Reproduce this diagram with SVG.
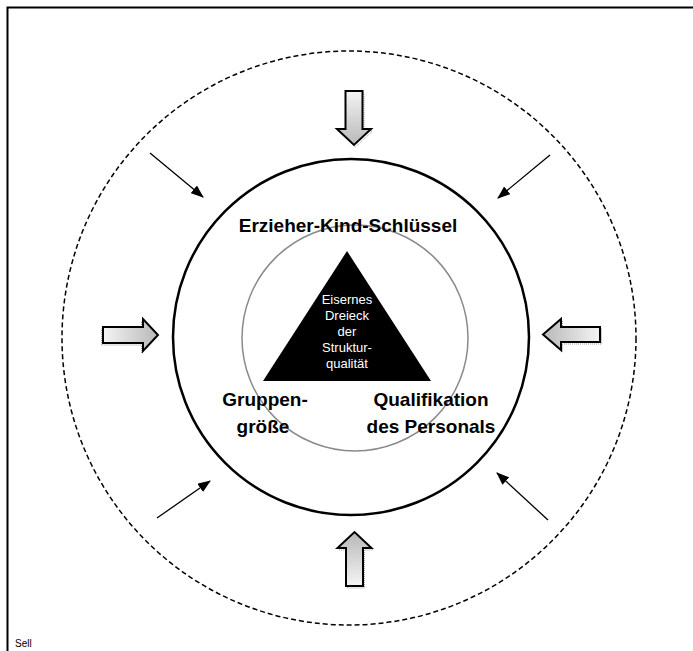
<svg xmlns="http://www.w3.org/2000/svg" width="693" height="651" viewBox="0 0 693 651">
  <defs>
    <style>
      .lbl { font-family: "Liberation Sans", Arial, sans-serif; font-weight: bold; font-size: 19px; fill: #000; text-anchor: middle; }
      .tri { font-family: "Liberation Sans", Arial, sans-serif; font-size: 13px; fill: #fff; text-anchor: middle; }
      .small { font-family: "Liberation Sans", Arial, sans-serif; font-size: 10px; fill: #000; }
      .block { stroke: #000; stroke-width: 2; stroke-linejoin: miter; }
      .shadow { fill: none; stroke: #9a9a9a; stroke-width: 1; stroke-dasharray: 1 1; }
      .thin { stroke: #000; stroke-width: 1.3; fill: none; marker-end: url(#head); }
    </style>
    <linearGradient id="gDown" x1="0" y1="0" x2="0" y2="1">
      <stop offset="0" stop-color="#f4f4f4"/>
      <stop offset="1" stop-color="#b8b8b8"/>
    </linearGradient>
    <linearGradient id="gUp" x1="0" y1="1" x2="0" y2="0">
      <stop offset="0" stop-color="#f4f4f4"/>
      <stop offset="1" stop-color="#b8b8b8"/>
    </linearGradient>
    <linearGradient id="gRight" x1="0" y1="0" x2="1" y2="0">
      <stop offset="0" stop-color="#f4f4f4"/>
      <stop offset="1" stop-color="#b8b8b8"/>
    </linearGradient>
    <linearGradient id="gLeft" x1="1" y1="0" x2="0" y2="0">
      <stop offset="0" stop-color="#f4f4f4"/>
      <stop offset="1" stop-color="#b8b8b8"/>
    </linearGradient>
    <marker id="head" markerWidth="13" markerHeight="10" refX="12" refY="5" orient="auto" markerUnits="userSpaceOnUse">
      <path d="M0,0 L13,5 L0,10 Z" fill="#000"/>
    </marker>
  </defs>

  <rect x="0" y="0" width="693" height="651" fill="#fff"/>

  <g id="frame">
    <path d="M7.5,651 L7.5,7.5 L693,7.5" fill="none" stroke="#000" stroke-width="2"/>
    <text class="small" x="15" y="647">Sell</text>
  </g>

  <g id="outer-ring">
    <circle cx="349" cy="338" r="287" fill="none" stroke="#000" stroke-width="1.5" stroke-dasharray="5 3"/>
  </g>

  <g id="structure-circle">
    <circle cx="351" cy="337" r="178" fill="none" stroke="#000" stroke-width="2.5"/>
  </g>

  <g id="core-circle">
    <circle cx="355" cy="338" r="113" fill="none" stroke="#8a8a8a" stroke-width="1.5"/>
  </g>

  <g id="triangle">
    <polygon points="347,251 263,381 431,381" fill="#000"/>
    <text class="tri" x="347" y="304">Eisernes</text>
    <text class="tri" x="347" y="320">Dreieck</text>
    <text class="tri" x="347" y="336">der</text>
    <text class="tri" x="347" y="352">Struktur-</text>
    <text class="tri" x="347" y="368">qualität</text>
  </g>

  <g id="label-erzieher">
    <text class="lbl" x="348" y="232">Erzieher-Kind-Schlüssel</text>
  </g>
  <g id="label-gruppe">
    <text class="lbl" x="265" y="406">Gruppen-</text>
    <text class="lbl" x="263" y="433">größe</text>
  </g>
  <g id="label-qualifikation">
    <text class="lbl" x="431" y="406">Qualifikation</text>
    <text class="lbl" x="431" y="433">des Personals</text>
  </g>

  <g id="connectors">
    <!-- block arrows -->
    <path class="shadow" transform="translate(1.5,2)" d="M345.5,91 L362.5,91 L362.5,129 L371,129 L354,145 L337,129 L345.5,129 Z"/>
    <path class="block" fill="url(#gDown)" d="M345.5,91 L362.5,91 L362.5,129 L371,129 L354,145 L337,129 L345.5,129 Z"/>

    <path class="shadow" transform="translate(1.5,2)" d="M346,586 L363,586 L363,548 L371.5,548 L354.5,532 L337.5,548 L346,548 Z"/>
    <path class="block" fill="url(#gUp)" d="M346,586 L363,586 L363,548 L371.5,548 L354.5,532 L337.5,548 L346,548 Z"/>

    <path class="shadow" transform="translate(-1.5,2)" d="M103,327 L143,327 L143,319 L158,335 L143,351 L143,343 L103,343 Z"/>
    <path class="block" fill="url(#gRight)" d="M103,327 L143,327 L143,319 L158,335 L143,351 L143,343 L103,343 Z"/>

    <path class="shadow" transform="translate(1.5,2)" d="M600,327 L561,327 L561,319 L543,334.5 L561,350 L561,342 L600,342 Z"/>
    <path class="block" fill="url(#gLeft)" d="M600,327 L561,327 L561,319 L543,334.5 L561,350 L561,342 L600,342 Z"/>

    <!-- thin arrows -->
    <line class="thin" x1="150" y1="153" x2="203" y2="197"/>
    <line class="thin" x1="550" y1="155" x2="498" y2="198"/>
    <line class="thin" x1="157" y1="518" x2="210" y2="481"/>
    <line class="thin" x1="548" y1="520" x2="497" y2="473"/>
  </g>
</svg>
